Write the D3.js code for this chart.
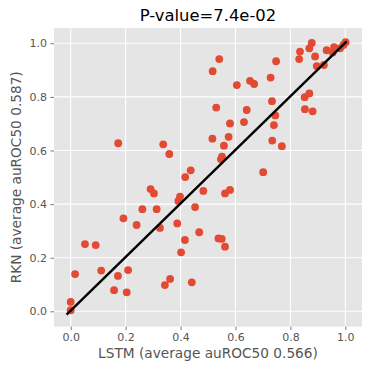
<!DOCTYPE html>
<html>
<head>
<meta charset="utf-8">
<script src="https://cdn.jsdelivr.net/npm/d3@7"></script>
<style>
  html, body { margin: 0; padding: 0; background: #ffffff; }
  svg { display: block; font-family: "DejaVu Sans", sans-serif; }
</style>
</head>
<body>
<svg id="chart" width="374" height="374"></svg>
<script>
// ---- data ----
const lstmScores = [
  0.173, 0.337, 0.359, 0.437, 0.417, 0.541, 0.517, 0.605, 0.653, 0.668,
  0.530, 0.641, 0.580, 0.631, 0.516, 0.575, 0.558, 0.551, 0.547, 0.878,
  0.869, 0.835, 0.832, 0.890, 0.896, 0.922, 0.932, 0.959, 0.981, 1.001,
  0.993, 0.954, 0.748, 0.728, 0.733, 0.745, 0.740, 0.734, 0.769, 0.852,
  0.869, 0.853, 0.881, 0.701, 0.291, 0.303, 0.261, 0.313, 0.192, 0.240,
  0.325, 0.052, 0.091, 0.016, 0.111, 0.172, 0.209, 0.158, 0.204, 0.000,
  0.000, 0.483, 0.562, 0.580, 0.398, 0.392, 0.453, 0.388, 0.468, 0.416,
  0.402, 0.538, 0.550, 0.562, 0.362, 0.343, 0.441
];
const rknScores = [
  0.627, 0.623, 0.587, 0.526, 0.501, 0.941, 0.896, 0.844, 0.860, 0.848,
  0.760, 0.751, 0.701, 0.706, 0.644, 0.651, 0.618, 0.577, 0.567, 1.001,
  0.981, 0.969, 0.941, 0.951, 0.915, 0.919, 0.974, 0.986, 0.981, 1.004,
  0.994, 0.966, 0.933, 0.872, 0.784, 0.731, 0.695, 0.637, 0.616, 0.799,
  0.813, 0.754, 0.746, 0.519, 0.456, 0.440, 0.381, 0.381, 0.347, 0.322,
  0.311, 0.251, 0.247, 0.139, 0.152, 0.132, 0.154, 0.079, 0.071, 0.035,
  0.004, 0.449, 0.440, 0.453, 0.428, 0.412, 0.389, 0.328, 0.295, 0.266,
  0.220, 0.272, 0.270, 0.241, 0.121, 0.098, 0.108
];
const fitLineX = [-0.015, 1.005];
const fitLineY = [-0.012, 1.007];
const xTicks = [0.0, 0.2, 0.4, 0.6, 0.8, 1.0];
const yTicks = [0.0, 0.2, 0.4, 0.6, 0.8, 1.0];
const titleText = "P-value=7.4e-02";
const xLabelText = "LSTM (average auROC50 0.566)";
const yLabelText = "RKN (average auROC50 0.587)";

// ---- layout ----
const svg = d3.select("#chart");
const plotLeft = 54, plotRight = 362, plotTop = 28, plotBottom = 326.6;

const x = d3.scaleLinear().domain([-0.0608, 1.0608]).range([plotLeft, plotRight]);
const y = d3.scaleLinear().domain([-0.057, 1.057]).range([plotBottom, plotTop]);

// background
svg.append("rect")
  .attr("x", plotLeft).attr("y", plotTop)
  .attr("width", plotRight - plotLeft).attr("height", plotBottom - plotTop)
  .attr("fill", "#E5E5E5");

// grid
const grid = svg.append("g");
grid.selectAll("line.vx").data(xTicks).enter().append("line")
  .attr("x1", d => x(d)).attr("x2", d => x(d))
  .attr("y1", plotTop).attr("y2", plotBottom)
  .attr("stroke", "#ffffff").attr("stroke-width", 1.1);
grid.selectAll("line.hy").data(yTicks).enter().append("line")
  .attr("y1", d => y(d)).attr("y2", d => y(d))
  .attr("x1", plotLeft).attr("x2", plotRight)
  .attr("stroke", "#ffffff").attr("stroke-width", 1.1);

// axes
const fmt = d3.format(".1f");
const xAxis = d3.axisBottom(x).tickValues(xTicks).tickFormat(fmt).tickSize(3.5).tickPadding(3.5);
const yAxis = d3.axisLeft(y).tickValues(yTicks).tickFormat(fmt).tickSize(3.5).tickPadding(3.5);

const gx = svg.append("g").attr("transform", `translate(0,${plotBottom})`).call(xAxis);
const gy = svg.append("g").attr("transform", `translate(${plotLeft},0)`).call(yAxis);
[gx, gy].forEach(g => {
  g.select(".domain").remove();
  g.selectAll(".tick line").attr("stroke", "#555555").attr("stroke-width", 0.8);
  g.selectAll(".tick text").attr("fill", "#555555")
    .style("font-family", "'DejaVu Sans', sans-serif").style("font-size", "11px");
});

// points
svg.append("g").selectAll("circle").data(lstmScores.map((v, i) => [v, rknScores[i]]))
  .enter().append("circle")
  .attr("cx", d => x(d[0])).attr("cy", d => y(d[1]))
  .attr("r", 3.9)
  .attr("fill", "#E24A33");

// fit line
svg.append("line")
  .attr("x1", x(fitLineX[0])).attr("y1", y(fitLineY[0]))
  .attr("x2", x(fitLineX[1])).attr("y2", y(fitLineY[1]))
  .attr("stroke", "#000000").attr("stroke-width", 2.4);

// title
svg.append("text")
  .attr("x", (plotLeft + plotRight) / 2).attr("y", 21)
  .attr("text-anchor", "middle")
  .attr("fill", "#000000")
  .style("font-size", "16.4px")
  .text(titleText);

// x label
svg.append("text")
  .attr("x", (plotLeft + plotRight) / 2).attr("y", 358)
  .attr("text-anchor", "middle")
  .attr("fill", "#555555")
  .style("font-size", "13.7px")
  .text(xLabelText);

// y label
svg.append("text")
  .attr("transform", `translate(21,${(plotTop + plotBottom) / 2}) rotate(-90)`)
  .attr("text-anchor", "middle")
  .attr("fill", "#555555")
  .style("font-size", "13.7px")
  .text(yLabelText);
</script>
</body>
</html>
